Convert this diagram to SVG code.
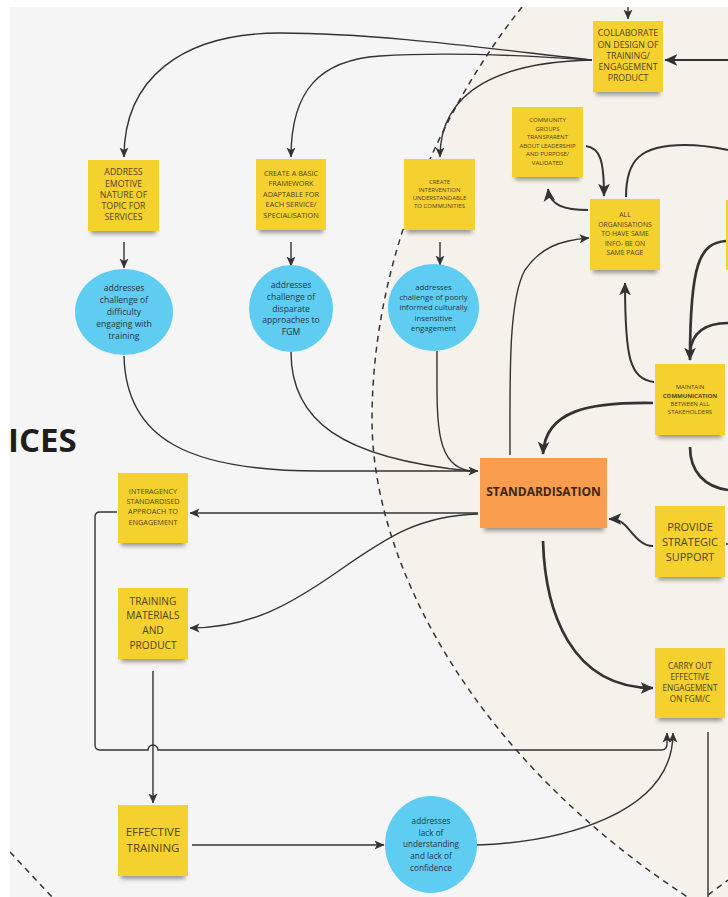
<svg xmlns="http://www.w3.org/2000/svg" width="728" height="897" viewBox="0 0 728 897">
  <style>
    .note { fill: #f5d12f; }
    .orange { fill: #fa9d4e; }
    .shade { fill: #4a4a4a; opacity: 0.55; filter: url(#soft); }
    .bubble { fill: #5fcdf1; }
    .nt { font-family: "Open Sans", "Liberation Sans", sans-serif; fill: #4f4320; text-anchor: middle; }
    .ct { font-family: "Open Sans", "Liberation Sans", sans-serif; fill: #263640; text-anchor: middle; }
    .wire { fill: none; stroke: #333; stroke-width: 1.4; }
    .mid { stroke-width: 2; }
    .thick { stroke-width: 2.7; }
    .arr { marker-end: url(#ah); }
    .arrb { marker-end: url(#ahb); }
    .dash { fill: none; stroke: #333; stroke-width: 1.5; stroke-dasharray: 6 5; }
  </style>
  <defs>
    <clipPath id="frame"><rect x="10" y="7" width="718" height="890"/></clipPath>
    <filter id="soft" x="-20%" y="-100%" width="140%" height="300%">
      <feGaussianBlur stdDeviation="2"/>
    </filter>
    <marker id="ah" markerUnits="userSpaceOnUse" markerWidth="10" markerHeight="10" viewBox="0 0 10 10" refX="9.5" refY="5" orient="auto">
      <path d="M0,0.5 L10,5 L0,9.5 L2.5,5 Z" fill="#333"/>
    </marker>
    <marker id="ahb" markerUnits="userSpaceOnUse" markerWidth="13" markerHeight="13" viewBox="0 0 10 10" refX="9.5" refY="5" orient="auto">
      <path d="M0,0.5 L10,5 L0,9.5 L2.5,5 Z" fill="#333"/>
    </marker>
  </defs>

  <rect width="728" height="897" fill="#ffffff"/>
  <g clip-path="url(#frame)">
    <rect x="10" y="7" width="718" height="890" fill="#f5f5f5"/>

    <!-- backdrop zones -->
    <g id="zones">
      <path d="M522 7 C440 110 372 260 372 420 C372 560 470 760 700 905 L728 905 L728 7 Z" fill="#f4f2eb"/>
      <path class="dash" d="M522 7 C440 110 372 260 372 420 C372 560 470 760 700 905"/>
      <path class="dash" d="M10 852 C24 867 38 882 52 897"/>
      <path class="dash" d="M708 895 L728 880"/>
      <text x="8" y="452" font-family="'Open Sans', 'Liberation Sans', sans-serif" font-weight="700" font-size="33" fill="#1e1e1e">ICES</text>
    </g>

    <!-- connectors -->
    <g id="connectors">
      <path class="wire arr" d="M628 0 L628 19"/>
      <path class="wire mid arrb" d="M728 60 L665 60"/>
      <path class="wire arr" d="M592 60 C500 50 380 33 280 33 C180 33 124 80 124 157"/>
      <path class="wire arr" d="M592 60 C520 55 440 52 380 56 C320 60 291 90 291 157"/>
      <path class="wire arr" d="M592 60 C500 62 440 90 440 157"/>

      <path class="wire arr" d="M124 242 L124 268"/>
      <path class="wire arr" d="M291 242 L291 266"/>
      <path class="wire arr" d="M440 242 L440 265"/>

      <path class="wire arr" d="M124 356 C126 440 190 471 320 471 L478 471"/>
      <path class="wire" d="M291 352 C291 420 340 458 470 471"/>
      <path class="wire" d="M437 351 C437 420 434 466 470 471"/>

      <path class="wire arr" d="M478 513 L190 513"/>
      <path class="wire arr" d="M478 514 C420 516 390 535 340 570 C290 605 250 628 190 628"/>
      <path class="wire arr" d="M117 512 L100 512 Q95 512 95 517 L95 745 Q95 750 100 750 L148 750 A5 5 0 0 1 158 750 L661 750 Q667 750 667 744 L667 733"/>
      <path class="wire arr" d="M153 671 L153 803"/>
      <path class="wire arr" d="M192 845 L384 845"/>
      <path class="wire arr" d="M477 845 C560 842 673 815 673 733"/>
      <path class="wire thick arrb" d="M543 541 C545 610 570 688 653 688"/>
      <path class="wire" d="M708 732 L708 897"/>

      <path class="wire arr" d="M510 455 C510 380 508 300 525 270 C540 248 560 240 589 238"/>
      <path class="wire mid arrb" d="M586 146 C600 148 604 160 604 196"/>
      <path class="wire mid arrb" d="M588 210 C565 210 550 206 548 189"/>
      <path class="wire mid" d="M626 197 C626 160 640 145 685 145 C705 145 718 148 728 150"/>
      <path class="wire mid arrb" d="M654 382 C630 378 625 360 625 283"/>
      <path class="wire thick arrb" d="M726 241 C700 243 690 262 690 360"/>
      <path class="wire thick" d="M728 323 C705 323 692 333 690 352"/>
      <path class="wire thick arrb" d="M653 403 C590 402 545 410 543 454"/>
      <path class="wire thick" d="M690 447 C690 472 705 487 728 490"/>
      <path class="wire mid arrb" d="M653 546 C640 546 632 532 625 525 C620 520 616 519 609 519"/>
      <path class="wire" d="M726 544 L728 544"/>
    </g>

    <!-- nodes -->
    <g id="collaborate">
      <rect class="shade" x="596" y="87" width="64" height="8"/>
      <rect class="note" x="593" y="21" width="70" height="71"/>
      <text class="nt" font-size="8.8"><tspan x="628" y="36.2">COLLABORATE</tspan><tspan x="628" y="47.5">ON DESIGN OF</tspan><tspan x="628" y="58.7">TRAINING/</tspan><tspan x="628" y="70">ENGAGEMENT</tspan><tspan x="628" y="81.2">PRODUCT</tspan></text>
    </g>

    <g id="address-emotive">
      <rect class="shade" x="91" y="226" width="65" height="8"/>
      <rect class="note" x="88" y="160" width="71" height="71"/>
      <text class="nt" font-size="8.8"><tspan x="123.5" y="175.2">ADDRESS</tspan><tspan x="123.5" y="186.5">EMOTIVE</tspan><tspan x="123.5" y="197.8">NATURE OF</tspan><tspan x="123.5" y="209.1">TOPIC FOR</tspan><tspan x="123.5" y="220.4">SERVICES</tspan></text>
    </g>

    <g id="basic-framework">
      <rect class="shade" x="259" y="225" width="64" height="8"/>
      <rect class="note" x="256" y="159" width="70" height="71"/>
      <text class="nt" font-size="7.3"><tspan x="291" y="175.6">CREATE A BASIC</tspan><tspan x="291" y="186.1">FRAMEWORK</tspan><tspan x="291" y="196.6">ADAPTABLE FOR</tspan><tspan x="291" y="207.1">EACH SERVICE/</tspan><tspan x="291" y="217.6">SPECIALISATION</tspan></text>
    </g>

    <g id="create-intervention">
      <rect class="shade" x="407" y="225" width="65" height="8"/>
      <rect class="note" x="404" y="159" width="71" height="71"/>
      <text class="nt" font-size="6"><tspan x="439.5" y="184.2">CREATE</tspan><tspan x="439.5" y="192.2">INTERVENTION</tspan><tspan x="439.5" y="200.2">UNDERSTANDABLE</tspan><tspan x="439.5" y="208.2">TO COMMUNITIES</tspan></text>
    </g>

    <g id="community-groups">
      <rect class="shade" x="515" y="172" width="65" height="8"/>
      <rect class="note" x="512" y="107" width="71" height="70"/>
      <text class="nt" font-size="6"><tspan x="547.5" y="122.2">COMMUNITY</tspan><tspan x="547.5" y="130.7">GROUPS</tspan><tspan x="547.5" y="139.2">TRANSPARENT</tspan><tspan x="547.5" y="147.7">ABOUT LEADERSHIP</tspan><tspan x="547.5" y="156.2">AND PURPOSE/</tspan><tspan x="547.5" y="164.7">VALIDATED</tspan></text>
    </g>

    <g id="same-page">
      <rect class="shade" x="593" y="265" width="64" height="8"/>
      <rect class="note" x="590" y="199" width="70" height="71"/>
      <text class="nt" font-size="6.8"><tspan x="625" y="217.4">ALL</tspan><tspan x="625" y="226.9">ORGANISATIONS</tspan><tspan x="625" y="236.4">TO HAVE SAME</tspan><tspan x="625" y="245.9">INFO- BE ON</tspan><tspan x="625" y="255.4">SAME PAGE</tspan></text>
    </g>

    <g id="edge-note">
      <rect class="note" x="726" y="200" width="10" height="70"/>
    </g>

    <g id="maintain-communication">
      <rect class="shade" x="658" y="430" width="64" height="8"/>
      <rect class="note" x="655" y="364" width="70" height="71"/>
      <text class="nt" font-size="6"><tspan x="690" y="389.2">MAINTAIN</tspan><tspan x="690" y="397.5" font-weight="700">COMMUNICATION</tspan><tspan x="690" y="405.8">BETWEEN ALL</tspan><tspan x="690" y="414.2">STAKEHOLDERS</tspan></text>
    </g>

    <g id="standardisation">
      <rect class="shade" x="484" y="523" width="120" height="8"/>
      <rect class="orange" x="480" y="458" width="127" height="70"/>
      <text class="nt" x="543.5" y="496.3" font-size="12" font-weight="700" style="fill:#3a2716">STANDARDISATION</text>
    </g>

    <g id="strategic-support">
      <rect class="shade" x="658" y="572" width="64" height="8"/>
      <rect class="note" x="655" y="506" width="70" height="71"/>
      <text class="nt" font-size="11"><tspan x="690" y="531">PROVIDE</tspan><tspan x="690" y="546">STRATEGIC</tspan><tspan x="690" y="561">SUPPORT</tspan></text>
    </g>

    <g id="effective-engagement">
      <rect class="shade" x="658" y="713" width="64" height="8"/>
      <rect class="note" x="655" y="648" width="70" height="70"/>
      <text class="nt" font-size="8.2"><tspan x="690" y="669">CARRY OUT</tspan><tspan x="690" y="680">EFFECTIVE</tspan><tspan x="690" y="691">ENGAGEMENT</tspan><tspan x="690" y="702">ON FGM/C</tspan></text>
    </g>

    <g id="interagency">
      <rect class="shade" x="121" y="538" width="64" height="8"/>
      <rect class="note" x="118" y="473" width="70" height="70"/>
      <text class="nt" font-size="7.3"><tspan x="153" y="493.6">INTERAGENCY</tspan><tspan x="153" y="504">STANDARDISED</tspan><tspan x="153" y="514.4">APPROACH TO</tspan><tspan x="153" y="524.8">ENGAGEMENT</tspan></text>
    </g>

    <g id="training-materials">
      <rect class="shade" x="121" y="654" width="64" height="8"/>
      <rect class="note" x="118" y="588" width="70" height="71"/>
      <text class="nt" font-size="10.2"><tspan x="153" y="604.7">TRAINING</tspan><tspan x="153" y="619.4">MATERIALS</tspan><tspan x="153" y="634.1">AND</tspan><tspan x="153" y="648.7">PRODUCT</tspan></text>
    </g>

    <g id="effective-training">
      <rect class="shade" x="121" y="871" width="64" height="8"/>
      <rect class="note" x="118" y="805" width="70" height="71"/>
      <text class="nt" font-size="11.5"><tspan x="153" y="836.1">EFFECTIVE</tspan><tspan x="153" y="852.1">TRAINING</tspan></text>
    </g>

    <g id="challenge-difficulty">
      <ellipse class="bubble" cx="124" cy="312" rx="49" ry="43"/>
      <text class="ct" font-size="8.6"><tspan x="124" y="291.1">addresses</tspan><tspan x="124" y="303.1">challenge of</tspan><tspan x="124" y="315.1">difficulty</tspan><tspan x="124" y="327.1">engaging with</tspan><tspan x="124" y="339.1">training</tspan></text>
    </g>

    <g id="challenge-disparate">
      <ellipse class="bubble" cx="291" cy="308.5" rx="42" ry="43.5"/>
      <text class="ct" font-size="8.6"><tspan x="291" y="288.1">addresses</tspan><tspan x="291" y="299.8">challenge of</tspan><tspan x="291" y="311.5">disparate</tspan><tspan x="291" y="323.2">approaches to</tspan><tspan x="291" y="334.9">FGM</tspan></text>
    </g>

    <g id="challenge-insensitive">
      <ellipse class="bubble" cx="433.5" cy="307.5" rx="45.5" ry="43.5"/>
      <text class="ct" font-size="7.7"><tspan x="433.5" y="289.8">addresses</tspan><tspan x="433.5" y="300.1">challenge of poorly</tspan><tspan x="433.5" y="310.4">informed culturally</tspan><tspan x="433.5" y="320.7">insensitive</tspan><tspan x="433.5" y="331">engagement</tspan></text>
    </g>

    <g id="challenge-confidence">
      <ellipse class="bubble" cx="431" cy="844.5" rx="46" ry="48.5"/>
      <text class="ct" font-size="8.2"><tspan x="431" y="823.9">addresses</tspan><tspan x="431" y="835.6">lack of</tspan><tspan x="431" y="847.3">understanding</tspan><tspan x="431" y="859">and lack of</tspan><tspan x="431" y="870.7">confidence</tspan></text>
    </g>
  </g>
</svg>
